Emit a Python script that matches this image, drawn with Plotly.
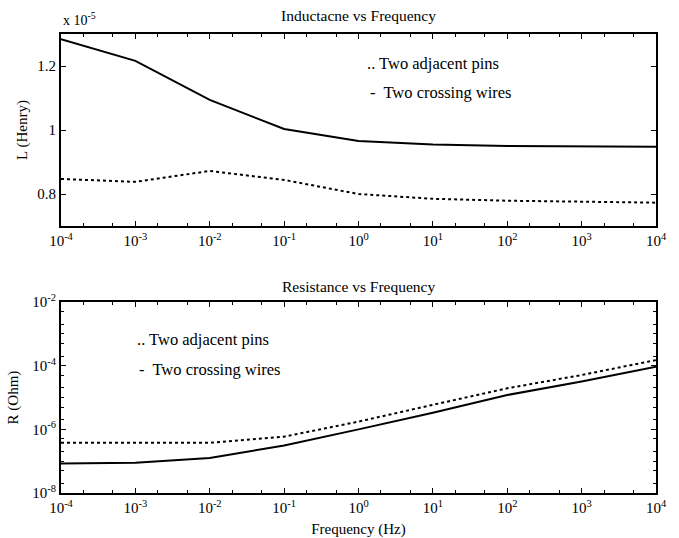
import plotly.graph_objects as go
from plotly.subplots import make_subplots

freq = [1e-4, 1e-3, 1e-2, 1e-1, 1e0, 1e1, 1e2, 1e3, 1e4]

# Inductance, in units of 1e-5 H
L_crossing = [1.284, 1.216, 1.094, 1.003, 0.966, 0.955, 0.950, 0.948, 0.948]
L_adjacent = [0.847, 0.838, 0.872, 0.844, 0.800, 0.785, 0.779, 0.775, 0.773]

# Resistance, Ohm
R_crossing = [8.5e-8, 8.9e-8, 1.26e-7, 3.1e-7, 1.0e-6, 3.3e-6, 1.2e-5, 3.2e-5, 9.3e-5]
R_adjacent = [3.8e-7, 3.8e-7, 3.8e-7, 5.9e-7, 1.75e-6, 5.9e-6, 1.95e-5, 5.1e-5, 1.5e-4]

x_tickvals = [1e-4, 1e-3, 1e-2, 1e-1, 1e0, 1e1, 1e2, 1e3, 1e4]
x_ticktext = ["10<sup>-4</sup>", "10<sup>-3</sup>", "10<sup>-2</sup>", "10<sup>-1</sup>",
              "10<sup>0</sup>", "10<sup>1</sup>", "10<sup>2</sup>", "10<sup>3</sup>", "10<sup>4</sup>"]
L_tickvals = [0.8, 1.0, 1.2]
L_ticktext = ["0.8", "1", "1.2"]
R_tickvals = [1e-8, 1e-6, 1e-4, 1e-2]
R_ticktext = ["10<sup>-8</sup>", "10<sup>-6</sup>", "10<sup>-4</sup>", "10<sup>-2</sup>"]

FONT = "Liberation Serif"

fig = make_subplots(rows=2, cols=1)

line_solid = dict(color="black", width=2)
line_dot = dict(color="black", width=2, dash="dot")

fig.add_trace(go.Scatter(x=freq, y=L_crossing, mode="lines", line=line_solid), row=1, col=1)
fig.add_trace(go.Scatter(x=freq, y=L_adjacent, mode="lines", line=line_dot), row=1, col=1)
fig.add_trace(go.Scatter(x=freq, y=R_crossing, mode="lines", line=line_solid), row=2, col=1)
fig.add_trace(go.Scatter(x=freq, y=R_adjacent, mode="lines", line=line_dot), row=2, col=1)

axis_common = dict(showline=True, linecolor="black", linewidth=2, mirror="ticks",
                   ticks="inside", ticklen=5, tickcolor="black", showgrid=False,
                   zeroline=False, automargin=False,
                   tickfont=dict(family=FONT, size=15, color="black"))

for r in (1, 2):
    fig.update_xaxes(type="log", range=[-4, 4], tickvals=x_tickvals, ticktext=x_ticktext,
                     minor=dict(ticks="inside", ticklen=3, tickcolor="black", showgrid=False),
                     **axis_common, row=r, col=1)

fig.update_yaxes(range=[0.7, 1.3], tickvals=L_tickvals, ticktext=L_ticktext,
                 domain=[0.5817, 1.0], **axis_common, row=1, col=1)
fig.update_yaxes(type="log", range=[-8, -2], tickvals=R_tickvals, ticktext=R_ticktext,
                 domain=[0.0, 0.416],
                 minor=dict(ticks="inside", ticklen=3, tickcolor="black", showgrid=False),
                 **axis_common, row=2, col=1)

fig.update_xaxes(title=dict(text="Frequency (Hz)", font=dict(family=FONT, size=15, color="black"),
                            standoff=8), row=2, col=1)
fig.update_yaxes(title=dict(text="L (Henry)", font=dict(family=FONT, size=15, color="black"),
                            standoff=6), row=1, col=1)
fig.update_yaxes(title=dict(text="R (Ohm)", font=dict(family=FONT, size=15, color="black"),
                            standoff=10), row=2, col=1)

ann_font = dict(family=FONT, size=15.5, color="black")
fig.add_annotation(text="Inductacne vs Frequency", xref="paper", yref="paper", x=0.5, y=1.0,
                   yshift=8, yanchor="bottom", showarrow=False, font=ann_font)
fig.add_annotation(text="Resistance vs Frequency", xref="paper", yref="paper", x=0.5, y=0.416,
                   yshift=5, yanchor="bottom", showarrow=False, font=ann_font)
fig.add_annotation(text="x 10<sup>-5</sup>", xref="paper", yref="paper", x=0.0, y=1.0,
                   xanchor="left", yanchor="bottom", yshift=4, showarrow=False,
                   font=dict(family=FONT, size=14, color="black"))

leg_font = dict(family=FONT, size=16.5, color="black")
fig.add_annotation(text=".. Two adjacent pins", xref="x", yref="y", x=0.086, y=1.209,
                   xanchor="left", showarrow=False, font=leg_font)
fig.add_annotation(text="-  Two crossing wires", xref="x", yref="y", x=0.126, y=1.116,
                   xanchor="left", showarrow=False, font=leg_font)
fig.add_annotation(text=".. Two adjacent pins", xref="x2", yref="y2", x=-3.0, y=-3.19,
                   xanchor="left", showarrow=False, font=leg_font)
fig.add_annotation(text="-  Two crossing wires", xref="x2", yref="y2", x=-2.98, y=-4.13,
                   xanchor="left", showarrow=False, font=leg_font)

fig.update_layout(width=679, height=538, margin=dict(l=61, r=23, t=34, b=45),
                  paper_bgcolor="white", plot_bgcolor="white", showlegend=False,
                  font=dict(family=FONT, color="black"))

fig.write_html("out.html", post_script="document.body.style.margin='0';",
               config={"displayModeBar": False})
